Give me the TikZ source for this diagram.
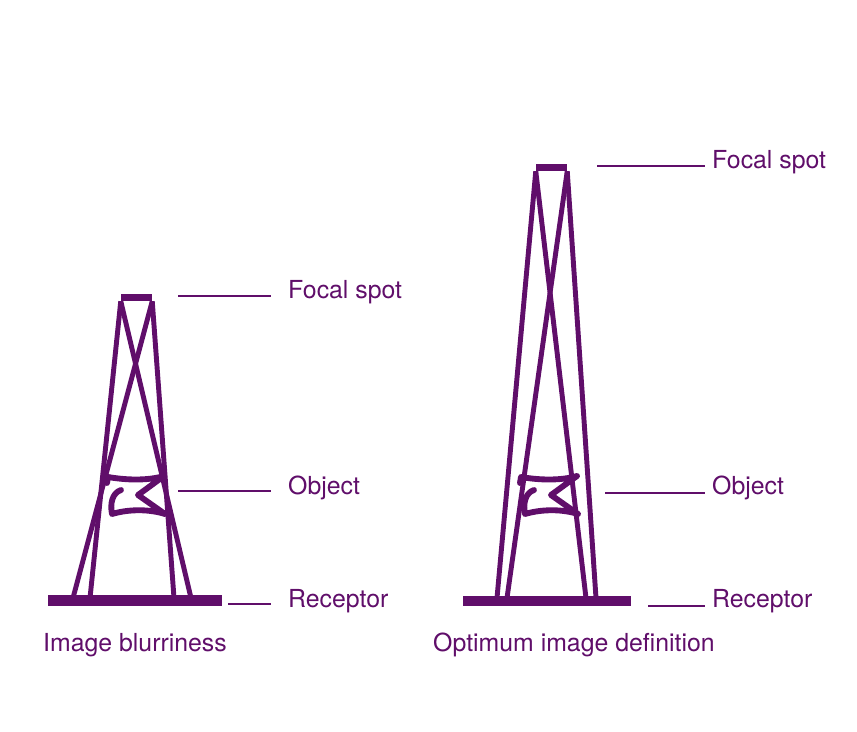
\documentclass[tikz,border=0pt]{standalone}
\usepackage{fontspec}
\setmainfont{TeX Gyre Heros}
\definecolor{xpurple}{RGB}{96,14,106}
\tikzset{lbl/.style={anchor=base west, inner ysep=0pt, inner xsep=#1}}

\begin{document}
\begin{tikzpicture}[x=0.03cm, y=-0.03cm]

	\tikzstyle{every node}=[font=\fontsize{21.2}{25}\selectfont, text=xpurple]
	\tikzstyle{spot} = [fill=xpurple, inner sep=0pt, minimum width=0.93cm, minimum height=0.21cm]
	\tikzstyle{receptor} = [fill=xpurple, inner sep=0pt, minimum height=0.32cm]
	\tikzstyle{ray} = [draw=xpurple, line width=4.2pt]
	\tikzstyle{leader} = [draw=xpurple, line width=1.6pt]
	\tikzstyle{obj} = [draw=xpurple, line width=5pt, line join=round, line cap=round]

	\useasboundingbox (0,0) rectangle (857,732);

	% blurred image: short distance
	\node[spot] (spotA) at (136.5,297.5) {};
	\coordinate (rA1) at (73,598);
	\coordinate (rA2) at (90,598);
	\coordinate (rA3) at (174,598);
	\coordinate (rA4) at (191,598);
	\draw[ray] (spotA.south west) -- (rA2);
	\draw[ray] (spotA.south west) -- (rA4);
	\draw[ray] (spotA.south east) -- (rA1);
	\draw[ray] (spotA.south east) -- (rA3);
	\node[receptor, minimum width=5.22cm] (recA) at (135,600.5) {};
	\draw[obj, shift={(107,474)}] (14,16) .. controls (5,19) and (3,30) .. (5,40)
		.. controls (22,35) and (42,35) .. (58,40) -- (31,21) -- (57,2)
		.. controls (40,7) and (18,6) .. (1,3) -- (0,9);

	% sharp image: long distance
	\node[spot] (spotB) at (551.5,167.5) {};
	\coordinate (rB1) at (497,598);
	\coordinate (rB2) at (507,598);
	\coordinate (rB3) at (586,598);
	\coordinate (rB4) at (596,598);
	\draw[ray] (spotB.south west) -- (rB1);
	\draw[ray] (spotB.south west) -- (rB3);
	\draw[ray] (spotB.south east) -- (rB2);
	\draw[ray] (spotB.south east) -- (rB4);
	\node[receptor, minimum width=5.04cm, minimum height=0.3cm] (recB) at (547,601) {};
	\draw[obj, shift={(520,474)}] (14,16) .. controls (5,19) and (3,30) .. (5,40)
		.. controls (22,35) and (42,35) .. (58,40) -- (31,21) -- (57,2)
		.. controls (40,7) and (18,6) .. (1,3) -- (0,9);

	% labels
	\coordinate (fA) at (178,296);
	\coordinate (oA) at (178,491);
	\coordinate (cA) at (228,604);
	\node[lbl=0.51cm] (focalA)    at (271,299) {Focal spot};
	\node[lbl=0.51cm] (objectA)   at (271,494) {Object};
	\node[lbl=0.51cm] (receptorA) at (271,607) {Receptor};
	\draw[leader] (fA) -- (fA -| focalA.west);
	\draw[leader] (oA) -- (oA -| objectA.west);
	\draw[leader] (cA) -- (cA -| receptorA.west);

	\coordinate (fB) at (597,166);
	\coordinate (oB) at (605,493);
	\coordinate (cB) at (648,606);
	\node[lbl=0.21cm] (focalB)    at (705,169) {Focal spot};
	\node[lbl=0.21cm] (objectB)   at (705,494) {Object};
	\node[lbl=0.21cm] (receptorB) at (705,607) {Receptor};
	\draw[leader] (fB) -- (fB -| focalB.west);
	\draw[leader] (oB) -- (oB -| objectB.west);
	\draw[leader] (cB) -- (cB -| receptorB.west);

	\node[lbl=0pt] (capA) at (43,651)  {Image blurriness};
	\node[lbl=0pt] (capB) at (433,651) {Optimum image definition};

\end{tikzpicture}
\end{document}
